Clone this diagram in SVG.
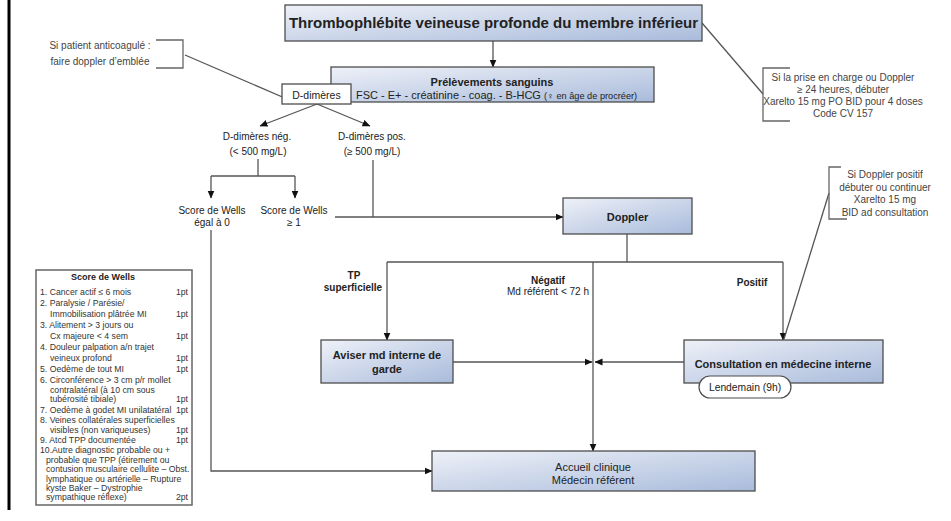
<svg xmlns="http://www.w3.org/2000/svg" width="951" height="521" viewBox="0 0 951 521">
<style>
text{font-family:"Liberation Sans",Arial,sans-serif;fill:#222}
.node{fill:url(#g);stroke:#4d4d4d;stroke-width:1.3}
.b{font-weight:bold}
.m{text-anchor:middle}
.e{text-anchor:end}
.note{font-size:10px;fill:#444}
.br{fill:none;stroke:#666;stroke-width:1.3}
.c{fill:none;stroke:#555;stroke-width:1.3}
.ca{fill:none;stroke:#555;stroke-width:1.3;marker-end:url(#a)}
.w{font-size:8.7px;fill:#333}
</style>
<defs>
<linearGradient id="g" x1="0" y1="0" x2="1" y2="1">
<stop offset="0" stop-color="#eef1f8"/>
<stop offset="1" stop-color="#a9bbdb"/>
</linearGradient>
<marker id="a" markerWidth="8" markerHeight="8" refX="7.5" refY="4" orient="auto" markerUnits="userSpaceOnUse">
<path d="M0,0.5 L8,4 L0,7.5 z" fill="#111"/>
</marker>
</defs>
<rect width="951" height="521" fill="#fff"/>
<line x1="9" y1="0" x2="9" y2="510" stroke="#000" stroke-width="3"/>

<g id="connectors">
<path class="ca" d="M493,41 V67"/>
<path class="c" d="M185,55 L287,99"/>
<path class="c" d="M702,23 L763,94"/>
<path class="ca" d="M317,104 L260,126"/>
<path class="ca" d="M317,104 L370,126"/>
<path class="c" d="M258,159 V176"/>
<path class="c" d="M211,176 H295"/>
<path class="ca" d="M211,176 V198"/>
<path class="ca" d="M295,176 V198"/>
<path class="c" d="M373,160 V217"/>
<path class="ca" d="M335,217 H563"/>
<path class="c" d="M627,234 V262"/>
<path class="c" d="M387,262 H783"/>
<path class="ca" d="M387,262 V340"/>
<path class="ca" d="M783,262 V340"/>
<path class="c" d="M829,193 L784,339"/>
<path class="ca" d="M593,262 V451"/>
<path class="ca" d="M453,362 H592"/>
<path class="ca" d="M684,362 H595"/>
<path class="ca" d="M211,230 V471 H432"/>
</g>

<g id="title">
<rect class="node" x="285" y="5" width="417" height="36"/>
<text class="b m" x="493.5" y="28" font-size="15">Thrombophlébite veineuse profonde du membre inférieur</text>
</g>

<g id="prelevements">
<rect class="node" x="331" y="67" width="323" height="35"/>
<text class="b m" x="492" y="86" font-size="11">Prélèvements sanguins</text>
<text x="356" y="99" font-size="11">FSC - E+  - créatinine - coag. - B-HCG <tspan font-size="9.2">(♀ en âge de procréer)</tspan></text>
</g>

<g id="ddimeres">
<rect x="282" y="84" width="69" height="20" fill="#fff" stroke="#4d4d4d" stroke-width="1.3"/>
<text class="m" x="316.5" y="98.5" font-size="10.5">D-dimères</text>
</g>

<g id="note-anticoag">
<path class="br" d="M156,40 H183 V68 H156"/>
<text class="note m" x="100" y="48.5">Si patient anticoagulé :</text>
<text class="note m" x="100" y="64.5">faire doppler d’emblée</text>
</g>

<g id="note-xarelto">
<path class="br" d="M790,68 H763 V121 H790"/>
<text class="note m" x="843" y="81" font-size="10.3">Si la prise en charge ou Doppler</text>
<text class="note m" x="843" y="93" font-size="10.3">≥ 24 heures,  débuter</text>
<text class="note m" x="843" y="105" font-size="10.3">Xarelto 15 mg PO BID pour 4 doses</text>
<text class="note m" x="843" y="117" font-size="10.3">Code  CV 157</text>
</g>

<g id="note-doppler">
<path class="br" d="M841,167 H829 V219 H847"/>
<text class="note m" x="885" y="178">Si Doppler positif</text>
<text class="note m" x="885" y="190.5">débuter ou continuer</text>
<text class="note m" x="885" y="203">Xarelto 15 mg</text>
<text class="note m" x="885" y="215.5">BID  ad consultation</text>
</g>

<g id="dd-neg">
<text class="m" x="257" y="140" font-size="10" fill="#333">D-dimères nég.</text>
<text class="m" x="258" y="155" font-size="10" fill="#333">(&lt; 500 mg/L)</text>
</g>
<g id="dd-pos">
<text class="m" x="372" y="140" font-size="10" fill="#333">D-dimères pos.</text>
<text class="m" x="372" y="155" font-size="10" fill="#333">(≥ 500 mg/L)</text>
</g>
<g id="wells-0">
<text class="m" x="212" y="214" font-size="10" fill="#333">Score de Wells</text>
<text class="m" x="212" y="226" font-size="10" fill="#333">égal à 0</text>
</g>
<g id="wells-1">
<text class="m" x="294" y="214" font-size="10" fill="#333">Score de Wells</text>
<text class="m" x="294" y="226" font-size="10" fill="#333">≥ 1</text>
</g>

<g id="doppler">
<rect class="node" x="563" y="198" width="129" height="36"/>
<text class="b m" x="627.5" y="221" font-size="11">Doppler</text>
</g>

<g id="labels-branches">
<text class="b m" x="354" y="279" font-size="10">TP</text>
<text class="b m" x="353" y="291" font-size="10">superficielle</text>
<text class="b m" x="548" y="284" font-size="10">Négatif</text>
<text class="m" x="548" y="295" font-size="10" fill="#333">Md référent &lt; 72 h</text>
<text class="b m" x="752" y="286" font-size="10">Positif</text>
</g>

<g id="aviser">
<rect class="node" x="321" y="340" width="132" height="43"/>
<text class="b m" x="387" y="359" font-size="11">Aviser md interne de</text>
<text class="b m" x="387" y="373" font-size="11">garde</text>
</g>

<g id="consultation">
<rect class="node" x="684" y="340" width="199" height="43"/>
<text class="b m" x="783" y="368" font-size="11">Consultation en médecine interne</text>
</g>

<g id="lendemain">
<rect x="699" y="376" width="92" height="22" rx="11" fill="#fff" stroke="#4d4d4d" stroke-width="1.2"/>
<text class="m" x="745" y="391" font-size="10.3" fill="#333">Lendemain (9h)</text>
</g>

<g id="accueil">
<rect class="node" x="432" y="451" width="323" height="40"/>
<text class="m" x="593" y="471" font-size="11">Accueil clinique</text>
<text class="m" x="593" y="484" font-size="11">Médecin référent</text>
</g>

<g id="score-wells">
<rect x="36" y="270" width="156" height="235" fill="#fff" stroke="#666" stroke-width="1.5"/>
<text class="b m" x="103" y="280" font-size="9">Score de Wells</text>
<text class="w" x="40" y="295">1. Cancer actif ≤ 6 mois</text><text class="w e" x="188" y="295">1pt</text>
<text class="w" x="40" y="306">2. Paralysie / Parésie/</text>
<text class="w" x="50" y="317">Immobilisation plâtrée MI</text><text class="w e" x="188" y="317">1pt</text>
<text class="w" x="40" y="328">3. Alitement &gt; 3 jours ou</text>
<text class="w" x="50" y="339">Cx majeure &lt; 4 sem</text><text class="w e" x="188" y="339">1pt</text>
<text class="w" x="40" y="350">4. Douleur palpation a/n trajet</text>
<text class="w" x="50" y="361">veineux profond</text><text class="w e" x="188" y="361">1pt</text>
<text class="w" x="40" y="372">5. Oedème de tout MI</text><text class="w e" x="188" y="372">1pt</text>
<text class="w" x="40" y="383">6. Circonférence &gt; 3 cm p/r mollet</text>
<text class="w" x="50" y="393">contralatéral (à 10 cm sous</text>
<text class="w" x="50" y="402">tubérosité tibiale)</text><text class="w e" x="188" y="402">1pt</text>
<text class="w" x="40" y="413">7. Oedème à godet MI unilatatéral</text><text class="w e" x="188" y="413">1pt</text>
<text class="w" x="40" y="423">8. Veines collatérales superficielles</text>
<text class="w" x="50" y="433">visibles (non variqueuses)</text><text class="w e" x="188" y="433">1pt</text>
<text class="w" x="40" y="443">9. Atcd TPP documentée</text><text class="w e" x="188" y="443">1pt</text>
<text class="w" x="40" y="453">10.Autre diagnostic probable ou +</text>
<text class="w" x="46" y="463">probable que TPP (étirement ou</text>
<text class="w" x="46" y="472">contusion musculaire cellulite – Obst.</text>
<text class="w" x="46" y="482">lymphatique ou artérielle – Rupture</text>
<text class="w" x="46" y="491">kyste Baker – Dystrophie</text>
<text class="w" x="46" y="500">sympathique réflexe)</text><text class="w e" x="188" y="500">2pt</text>
</g>
</svg>
